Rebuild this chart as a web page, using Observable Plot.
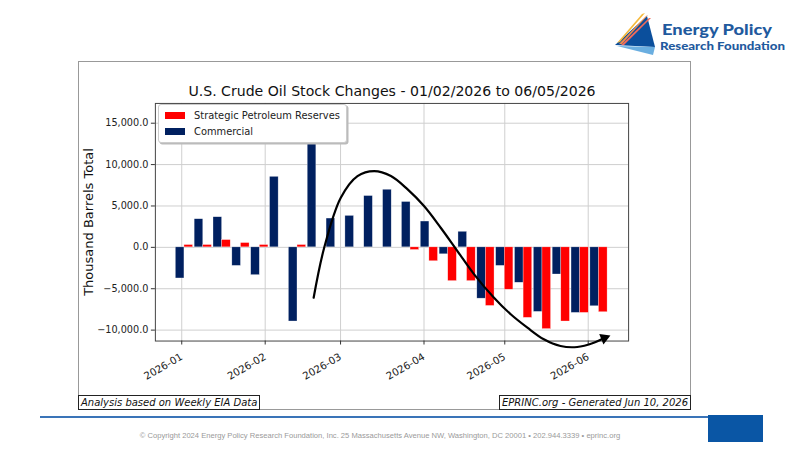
<!DOCTYPE html>
<html>
<head>
<meta charset="utf-8">
<script src="https://cdn.jsdelivr.net/npm/d3@7"></script>
<script src="https://cdn.jsdelivr.net/npm/@observablehq/plot@0.6"></script>
<style>
  html, body { margin: 0; padding: 0; background: #fff; }
  body { width: 800px; height: 450px; position: relative; overflow: hidden; font-family: "DejaVu Sans", sans-serif; }
  .abs { position: absolute; }
  #box { left: 78px; top: 61px; width: 611px; height: 347px; border: 1px solid #999; box-sizing: content-box; }
  #chart { left: 0; top: 0; }
  #title { left: 0; width: 626px; text-align: center; top: 21px; font-size: 14.1px; color: #111; white-space: nowrap; }
  #ylabel { left: 9px; top: 160px; font-size: 13px; color: #111; transform: translate(-50%, -50%) rotate(-90deg); white-space: nowrap; }
  #legend { left: 79px; top: 42px; width: 187px; height: 37px; background: #fff; border: 1px solid #ccc; border-radius: 3px; box-shadow: 1.5px 1.5px 0 #bbb; font-size: 9.9px; color: #222; }
  .li { position: absolute; left: 6px; display: flex; align-items: center; white-space: nowrap; }
  .sw { width: 20px; height: 7px; margin-right: 9px; }
  .note { font-style: italic; font-size: 10px; color: #111; border: 1px solid #222; background: #fff; padding: 0 2px; line-height: 13px; white-space: nowrap; }
  #footer { left: 0; width: 760px; text-align: center; top: 431px; font-family: "Liberation Sans", Arial, sans-serif; font-size: 7.6px; color: #9a9a9a; white-space: nowrap; }
</style>
</head>
<body>
<script>
// ---- data ----
const weeks = ["2026-01-02","2026-01-09","2026-01-16","2026-01-23","2026-01-30","2026-02-06","2026-02-13","2026-02-20","2026-02-27","2026-03-06","2026-03-13","2026-03-20","2026-03-27","2026-04-03","2026-04-10","2026-04-17","2026-04-24","2026-05-01","2026-05-08","2026-05-15","2026-05-22","2026-05-29","2026-06-05"];
const commercial = [-3760, 3400, 3640, -2240, -3360, 8520, -8960, 12480, 3480, 3800, 6200, 6960, 5480, 3120, -840, 1880, -6200, -2240, -4280, -7800, -3280, -7920, -7120];
const spr = [280, 280, 880, 520, 280, 0, 280, 0, 0, 0, 0, 0, -320, -1680, -4080, -4080, -7080, -5120, -8520, -9880, -8960, -7920, -7840];
const yTicks = [-10000, -5000, 0, 5000, 10000, 15000];
const seriesNames = ["Strategic Petroleum Reserves", "Commercial"];
const seriesColors = ["#ff0000", "#002060"];
// hand-drawn trend arrow annotation (date, value)
const arrowDates = ["2026-02-19","2026-02-22T22:00","2026-03-01T02:00","2026-03-07T07:00","2026-03-13T12:00","2026-03-19T17:00","2026-03-25T22:00","2026-04-01","2026-04-07T05:00","2026-04-13T10:00","2026-04-19T15:00","2026-04-27","2026-05-03T05:00","2026-05-09T10:00","2026-05-15T12:00","2026-05-21T17:00","2026-05-27T22:00","2026-06-03T02:00","2026-06-06T00:00"];
const arrowValues = [-6090, -50, 5990, 8610, 9210, 8610, 7000, 4990, 2370, -450, -3260, -6090, -8090, -9710, -11110, -11920, -12040, -11520, -11100];
const arrowTip = [{date: "2026-06-07T00:00", v: -10950}];
const titleText = "U.S. Crude Oil Stock Changes - 01/02/2026 to 06/05/2026";
const yLabel = "Thousand Barrels Total";
const leftNote = "Analysis based on Weekly EIA Data";
const rightNote = "EPRINC.org - Generated Jun 10, 2026";
</script>

<!-- logo -->
<svg class="abs" style="left:610px;top:8px" width="185" height="52" viewBox="0 0 185 52">
  <polygon points="5,37 37,8 45,39" fill="#0b4f9c"/>
  <polygon points="7,38 45,39 43,47" fill="#6aaee0"/>
  <polygon points="7,35 32,6 35,5 10,34" fill="#f6b93b"/>
  <polygon points="9,36 36,8 38,7 12,36" fill="#f08a4b"/>
  <polygon points="11,37 39,10 41,10 14,37" fill="#ef6a5a"/>
  <text x="52" y="26.5" font-family="Lato, 'Open Sans', sans-serif" font-weight="900" font-size="15.5" textLength="110" lengthAdjust="spacingAndGlyphs" fill="#1f5a9e">Energy Policy</text>
  <text x="50" y="41.5" font-family="Lato, 'Open Sans', sans-serif" font-weight="900" font-size="10.8" textLength="125" lengthAdjust="spacingAndGlyphs" fill="#1f5a9e">Research Foundation</text>
</svg>

<div id="box" class="abs">
  <div id="chart" class="abs"></div>
  <div id="title" class="abs"></div>
  <div id="ylabel" class="abs"></div>
  <div id="legend" class="abs"></div>
  <div id="lnote" class="abs note" style="left:-1px;top:333px"></div>
  <div id="rnote" class="abs note" style="right:-1px;top:333px"></div>
</div>

<div class="abs" style="left:40px;top:416px;width:668px;height:1.6px;background:#3a74b8"></div>
<div class="abs" style="left:708px;top:415px;width:55px;height:27px;background:#0a56a5"></div>
<div id="footer" class="abs">© Copyright 2024 Energy Policy Research Foundation, Inc. 25 Massachusetts Avenue NW, Washington, DC 20001 • 202.944.3339 • eprinc.org</div>

<script>
const DAY = 864e5;
const barW = 3.2 * DAY;
const toDate = s => new Date((s.length > 10 ? s : s + "T00:00") + "Z");
const rows = weeks.map((w, i) => ({date: toDate(w), c: commercial[i], s: spr[i]}));
const arrowPts = arrowDates.map((d, i) => ({date: toDate(d), v: arrowValues[i]}));
const tip = arrowTip.map(d => ({date: toDate(d.date), v: d.v}));
const months = d3.utcMonth.range(new Date("2026-01-01"), new Date("2026-06-02"));

const plot = Plot.plot({
  width: 612,
  height: 330,
  marginLeft: 76,
  marginTop: 41,
  marginRight: 62,
  marginBottom: 51,
  style: {fontFamily: "DejaVu Sans, sans-serif", color: "#222", background: "transparent"},
  x: {type: "utc", domain: [new Date("2025-12-22T05:00Z"), new Date("2026-06-16T00:00Z")]},
  y: {domain: [-11320, 17390]},
  marks: [
    Plot.gridY(yTicks, {stroke: "#cfcfcf", strokeOpacity: 1, strokeWidth: 1}),
    Plot.gridX(months, {stroke: "#cfcfcf", strokeOpacity: 1, strokeWidth: 1}),
    Plot.rect(rows, {x1: d => new Date(+d.date - barW), x2: "date", y1: () => 0, y2: "c", fill: seriesColors[1], stroke: "#fff", strokeWidth: 0.5, strokeOpacity: 0.6}),
    Plot.rect(rows, {x1: "date", x2: d => new Date(+d.date + barW), y1: () => 0, y2: "s", fill: seriesColors[0], stroke: "#fff", strokeWidth: 0.5, strokeOpacity: 0.6}),
    Plot.frame({stroke: "#444", strokeWidth: 1}),
    Plot.axisY({ticks: yTicks, tickFormat: d3.format(",.1f"), tickSize: 4, tickPadding: 3, fontSize: 9.7, label: null, stroke: "#333"}),
    Plot.axisX({ticks: months, tickFormat: d3.utcFormat("%Y-%m"), tickSize: 4, tickPadding: 11, tickRotate: -30, fontSize: 10.2, label: null, stroke: "#333"}),
    Plot.line(arrowPts, {x: "date", y: "v", curve: "catmull-rom", stroke: "#000", strokeWidth: 2.2}),
    Plot.dot(tip, {x: "date", y: "v", symbol: "triangle", r: 4.2, fill: "#000", stroke: "none", rotate: 68})
  ]
});
document.getElementById("chart").appendChild(plot);
document.getElementById("title").textContent = titleText;
document.getElementById("ylabel").textContent = yLabel;
document.getElementById("lnote").textContent = leftNote;
document.getElementById("rnote").textContent = rightNote;
const lg = document.getElementById("legend");
seriesNames.forEach((n, i) => {
  const d = document.createElement("div");
  d.className = "li";
  d.style.top = (5 + i * 16) + "px";
  d.innerHTML = `<span class="sw" style="background:${seriesColors[i]}"></span><span></span>`;
  d.lastChild.textContent = n;
  lg.appendChild(d);
});
</script>
</body>
</html>
